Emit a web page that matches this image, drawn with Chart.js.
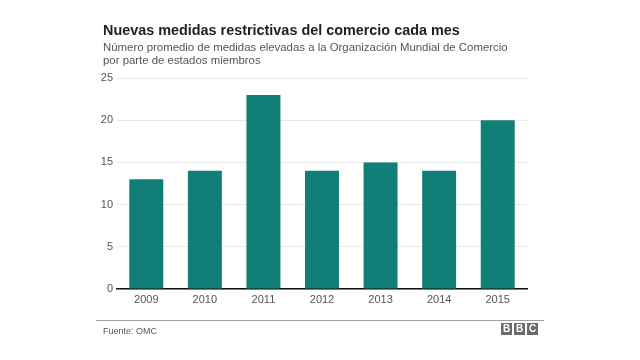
<!DOCTYPE html>
<html><head><meta charset="utf-8">
<script src="https://cdn.jsdelivr.net/npm/chart.js@4/dist/chart.umd.min.js"></script>
<style>
html,body{margin:0;padding:0;background:#fff;width:640px;height:360px;overflow:hidden;font-family:"Liberation Sans",Arial,sans-serif}
#wrap{position:absolute;left:0;top:0;width:640px;height:360px}
.t{position:absolute;white-space:nowrap}
#title{left:103px;top:22px;font-size:14.4px;font-weight:bold;color:#222}
#sub{left:103px;top:41px;font-size:11.4px;line-height:13px;color:#555}
#rule{position:absolute;left:96px;top:320px;width:448px;height:1px;background:#a0a0a0}
#src{left:103px;top:326px;font-size:9px;color:#555}
#bbc{position:absolute;left:501px;top:323px;display:flex;gap:2px}
#bbc span{display:block;width:11px;height:12px;background:#6b6b6b;color:#fff;font:bold 10px "Liberation Sans",Arial,sans-serif;text-align:center;line-height:12px}
</style></head>
<body>
<div id="wrap"><canvas id="c" width="640" height="360"></canvas></div>
<div class="t" id="title">Nuevas medidas restrictivas del comercio cada mes</div>
<div class="t" id="sub">Número promedio de medidas elevadas a la Organización Mundial de Comercio<br>por parte de estados miembros</div>
<div id="rule"></div>
<div class="t" id="src">Fuente: OMC</div>
<div id="bbc"><span>B</span><span>B</span><span>C</span></div>
<script>
const years = ["2009","2010","2011","2012","2013","2014","2015"];
const medidas = [13, 14, 23, 14, 15, 14, 20];
const yTicks = [0, 5, 10, 15, 20, 25];

new Chart(document.getElementById('c'), {
  type: 'bar',
  data: { labels: years, datasets: [{ data: medidas, backgroundColor: '#117e77', borderWidth: 0, barPercentage: 0.58, categoryPercentage: 1 }] },
  options: {
    responsive: false, animation: false,
    layout: { padding: { left: 0, right: 113, top: 78, bottom: 0 } },
    plugins: { legend: { display: false }, tooltip: { enabled: false }, title: { display: false } },
    scales: {
      x: {
        grid: { display: false, drawTicks: false },
        border: { display: true, color: '#111', width: 1.5 },
        ticks: { color: '#555', font: { family: 'Liberation Sans', size: 11 }, padding: 4 },
        afterFit: s => { s.height = 71; }
      },
      y: {
        min: 0, max: 25,
        afterBuildTicks: s => { s.ticks = yTicks.map(v => ({ value: v })); },
        grid: { color: '#e8e8e8', lineWidth: 1, drawTicks: false },
        border: { display: false },
        ticks: { color: '#555', font: { family: 'Liberation Sans', size: 11 }, padding: 4 },
        afterFit: s => { s.width = 117; }
      }
    }
  }
});
</script>
</body></html>
